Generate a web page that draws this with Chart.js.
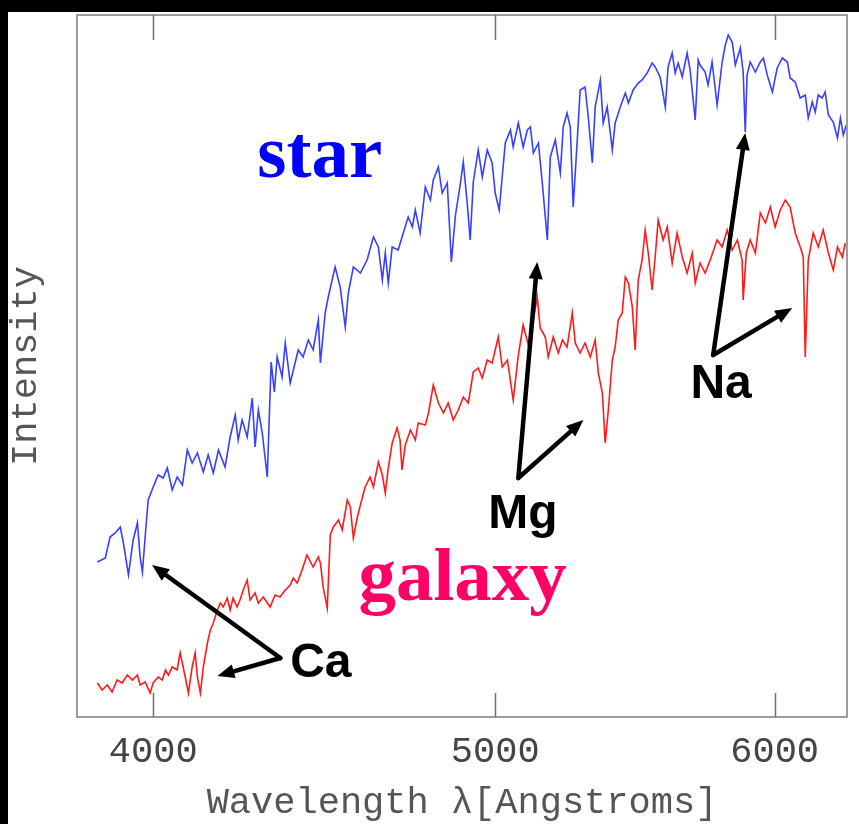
<!DOCTYPE html>
<html>
<head>
<meta charset="utf-8">
<title>star vs galaxy spectrum</title>
<script src="https://cdn.jsdelivr.net/npm/chart.js@4"></script>
<style>
  html, body { margin: 0; padding: 0; background: #000; }
  #wrap { position: absolute; left: 8px; top: 12px; width: 851px; height: 812px; background: #fff; }
  canvas { display: block; }
</style>
</head>
<body>
<div id="wrap"><canvas id="spectrum" width="851" height="812"></canvas></div>
<script>
// wavelength axis (Angstroms, log scale) and tick labels
const wavelengthTicks = [4000, 5000, 6000];

// star spectrum (arbitrary intensity units)
const starWavelength = [3857,3877,3889,3902,3915,3923,3936,3948,3959,3966,
  3972,3979,3987,4000,4013,4026,4037,4050,4063,4077,
  4090,4103,4117,4133,4146,4160,4174,4192,4206,4220,
  4228,4239,4253,4267,4275,4284,4295,4309,4320,4329,
  4337,4351,4360,4374,4397,4411,4426,4440,4455,4461,
  4475,4484,4504,4519,4534,4543,4558,4579,4599,4618,
  4633,4645,4654,4663,4675,4693,4709,4724,4737,4746,
  4761,4777,4793,4802,4818,4830,4846,4859,4872,4887,
  4897,4910,4919,4929,4945,4958,4974,4990,5000,5013,
  5033,5050,5059,5076,5092,5106,5116,5126,5143,5156,
  5173,5183,5200,5217,5227,5240,5251,5261,5275,5285,
  5302,5313,5327,5337,5355,5365,5379,5397,5407,5425,
  5443,5454,5471,5489,5503,5521,5539,5550,5568,5587,
  5597,5612,5623,5634,5649,5667,5678,5697,5708,5715,
  5734,5745,5760,5779,5798,5810,5821,5836,5848,5867,
  5878,5886,5893,5905,5925,5944,5956,5971,5991,6010,
  6030,6050,6061,6081,6101,6121,6133,6149,6161,6173,
  6189,6201,6214,6234,6251,6263,6275,6287];
const starIntensity = [155,159,180,184,190,174,142,177,194,160,
  145,180,217,230,242,239,249,227,240,232,
  267,254,264,245,262,244,267,250,280,302,
  277,297,280,319,270,307,284,240,355,325,
  360,340,374,334,367,360,377,367,397,354,
  404,420,450,430,390,424,450,444,457,480,
  470,437,464,434,470,467,484,500,490,507,
  484,530,517,537,550,524,534,455,502,532,
  555,512,477,535,567,540,567,554,524,507,
  574,587,570,594,570,587,590,564,574,534,
  477,560,577,544,590,604,590,510,577,627,
  630,600,554,610,637,594,610,567,594,610,
  624,614,627,634,637,644,654,650,640,610,
  650,664,644,654,640,664,647,597,657,652,
  645,632,655,612,655,672,682,675,652,669,
  645,585,642,655,645,655,659,642,625,649,
  659,655,639,635,619,622,599,615,605,622,
  619,625,602,595,579,599,582,592];

// galaxy spectrum
const galaxyWavelength = [3857,3869,3882,3894,3907,3920,3933,3946,3959,3966,
  3979,3992,4000,4013,4024,4032,4040,4050,4063,4071,
  4079,4093,4103,4111,4117,4125,4133,4144,4152,4160,
  4171,4179,4187,4198,4206,4214,4225,4233,4242,4253,
  4261,4275,4284,4298,4317,4331,4345,4360,4374,4383,
  4394,4408,4422,4440,4455,4461,4469,4481,4490,4499,
  4514,4525,4540,4549,4558,4570,4579,4593,4608,4618,
  4633,4645,4654,4663,4675,4690,4699,4705,4715,4731,
  4746,4755,4777,4787,4802,4818,4834,4849,4865,4881,
  4897,4913,4929,4945,4958,4974,4990,5010,5023,5040,
  5059,5076,5092,5109,5126,5139,5149,5166,5176,5193,
  5210,5224,5240,5258,5268,5285,5302,5320,5337,5348,
  5362,5372,5383,5397,5407,5418,5432,5443,5454,5468,
  5478,5489,5503,5514,5525,5539,5550,5561,5579,5594,
  5612,5630,5649,5667,5686,5697,5715,5734,5753,5779,
  5798,5817,5836,5856,5874,5878,5890,5905,5925,5944,
  5964,5983,6002,6022,6042,6061,6081,6101,6113,6121,
  6133,6153,6173,6193,6214,6234,6251,6271,6283];
const galaxyIntensity = [34,27,32,25,37,34,42,37,42,32,
  35,24,34,40,37,47,42,50,47,64,
  50,24,50,64,40,24,50,74,87,94,
  107,114,110,119,107,119,110,117,127,137,
  117,124,114,120,110,122,120,127,132,139,
  134,147,162,150,160,154,130,109,182,190,
  197,187,217,210,179,200,212,230,240,230,
  255,242,224,249,274,289,277,247,272,287,
  277,294,292,304,332,314,304,314,297,307,
  320,314,345,349,339,357,354,380,350,357,
  317,362,392,372,397,420,389,380,360,380,
  364,377,370,404,374,364,374,360,377,344,
  324,274,307,357,370,397,404,440,434,410,
  367,437,457,487,464,427,460,497,477,490,
  454,484,460,444,464,434,454,444,457,477,
  470,487,467,477,457,417,464,477,464,504,
  494,510,490,507,517,510,484,470,460,360,
  457,484,470,487,464,447,470,460,474];

// text labels, placed in data units (wavelength, intensity)
const labelText = ['star', 'galaxy', 'Ca', 'Mg', 'Na'];
const labelWave = [4281, 4573, 4374, 4977, 5679];
const labelLevel = [540, 117, 40, 189, 319];

// arrows: from the label corner to the absorption line
const arrowFromWave = [4346, 4346, 5076, 5076, 5764, 5764];
const arrowFromLevel = [59, 59, 239, 239, 362, 362];
const arrowToWave = [3997, 4171, 5139, 5296, 5886, 6069];
const arrowToLevel = [152, 41, 455, 297, 584, 409];

function toPoints(xs, ys) {
  return xs.map((w, i) => ({ x: w, y: ys[i] }));
}

function drawArrow(ctx, x0, y0, x1, y1) {
  const ang = Math.atan2(y1 - y0, x1 - x0);
  const head = 17, half = 7;
  const bx = x1 - head * Math.cos(ang), by = y1 - head * Math.sin(ang);
  ctx.beginPath();
  ctx.moveTo(x0, y0);
  ctx.lineTo(bx, by);
  ctx.stroke();
  ctx.beginPath();
  ctx.moveTo(x1, y1);
  ctx.lineTo(bx + half * Math.sin(ang), by - half * Math.cos(ang));
  ctx.lineTo(bx - half * Math.sin(ang), by + half * Math.cos(ang));
  ctx.closePath();
  ctx.fill();
}

// frame, inward ticks, labels and arrows
const framePlugin = {
  id: 'frame',
  afterDatasetsDraw(chart) {
    const { ctx, chartArea: a, scales: { x, y } } = chart;
    ctx.save();
    ctx.strokeStyle = '#9d9d9d';
    ctx.lineWidth = 2;
    ctx.strokeRect(a.left, a.top, a.right - a.left, a.bottom - a.top);

    ctx.strokeStyle = '#707070';
    ctx.lineWidth = 1.5;
    wavelengthTicks.forEach(v => {
      const px = Math.round(x.getPixelForValue(v)) + 0.5;
      ctx.beginPath();
      ctx.moveTo(px, a.top);
      ctx.lineTo(px, a.top + 25);
      ctx.moveTo(px, a.bottom);
      ctx.lineTo(px, a.bottom - 24);
      ctx.stroke();
    });

    ctx.strokeStyle = '#000';
    ctx.fillStyle = '#000';
    ctx.lineWidth = 4.5;
    ctx.lineCap = 'round';
    arrowFromWave.forEach((w, i) => {
      drawArrow(ctx,
        x.getPixelForValue(w), y.getPixelForValue(arrowFromLevel[i]),
        x.getPixelForValue(arrowToWave[i]), y.getPixelForValue(arrowToLevel[i]));
    });

    ctx.textAlign = 'left';
    ctx.textBaseline = 'alphabetic';
    labelText.forEach((t, i) => {
      if (t === 'star') {
        ctx.font = 'bold 75px "Liberation Serif"';
        ctx.fillStyle = '#0000ff';
      } else if (t === 'galaxy') {
        ctx.font = 'bold 75px "Liberation Serif"';
        ctx.fillStyle = '#ff0066';
      } else {
        ctx.font = 'bold 48px "Liberation Sans"';
        ctx.fillStyle = '#000';
      }
      ctx.fillText(t, x.getPixelForValue(labelWave[i]), y.getPixelForValue(labelLevel[i]));
    });
    ctx.restore();
  }
};

const axisFont = { family: 'Liberation Mono', size: 37, lineHeight: 1 };

const ctx = document.getElementById('spectrum').getContext('2d');
const chart = new Chart(ctx, {
  type: 'line',
  data: {
    datasets: [{
      label: 'star',
      data: toPoints(starWavelength, starIntensity),
      borderColor: 'rgba(20, 30, 255, 0.85)',
      borderWidth: 1.6,
      pointRadius: 0,
      tension: 0
    }, {
      label: 'galaxy',
      data: toPoints(galaxyWavelength, galaxyIntensity),
      borderColor: 'rgba(255, 0, 0, 0.9)',
      borderWidth: 1.6,
      pointRadius: 0,
      tension: 0
    }]
  },
  options: {
    responsive: false,
    animation: false,
    devicePixelRatio: 1,
    layout: { padding: { left: 0, right: 12, top: 3, bottom: 0 } },
    plugins: {
      legend: { display: false },
      tooltip: { enabled: false }
    },
    scales: {
      x: {
        type: 'logarithmic',
        min: 3806,
        max: 6290,
        afterBuildTicks: s => { s.ticks = wavelengthTicks.map(v => ({ value: v })); },
        afterFit: s => { s.height = 107; },
        grid: { display: false, drawTicks: false },
        border: { display: false },
        ticks: {
          color: '#444',
          font: axisFont,
          padding: 17,
          maxRotation: 0,
          autoSkip: false,
          callback: v => String(v)
        },
        title: {
          display: true,
          text: 'Wavelength λ[Angstroms]',
          color: '#555',
          font: axisFont,
          padding: { top: 0, bottom: 2 }
        }
      },
      y: {
        min: 0,
        max: 702,
        afterFit: s => { s.width = 69; },
        grid: { display: false, drawTicks: false },
        border: { display: false },
        ticks: { display: false },
        title: {
          display: true,
          text: 'Intensity',
          color: '#555',
          font: axisFont,
          padding: { top: 0, bottom: 0 }
        }
      }
    }
  },
  plugins: [framePlugin]
});
</script>
</body>
</html>
